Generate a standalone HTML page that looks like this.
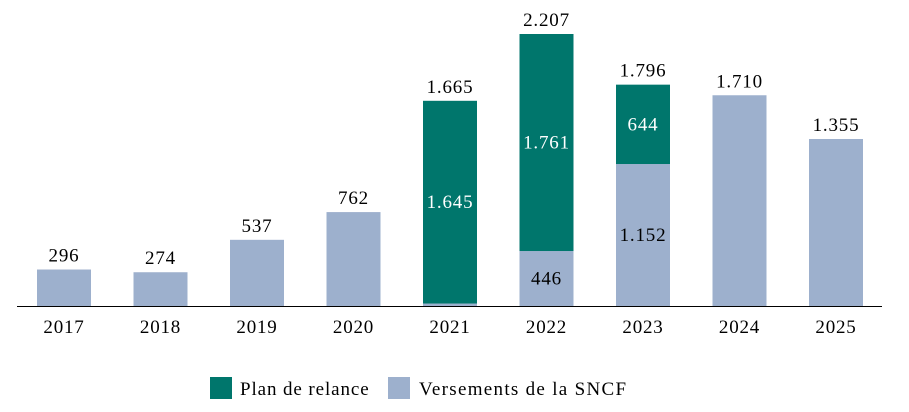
<!DOCTYPE html>
<html><head><meta charset="utf-8"><style>
body{margin:0;background:#fff;}
svg text{font-family:"Liberation Serif",serif;}
</style></head><body>
<svg id="chart" width="909" height="407" xmlns="http://www.w3.org/2000/svg">
<g id="bars"></g>
<line x1="17" y1="306.5" x2="882" y2="306.5" stroke="#000" stroke-width="1"/>
<g id="xlabels"></g>
<g>
<rect x="210" y="377" width="22" height="22" fill="#00766C"/>
<text x="240" y="395" font-size="19" letter-spacing="0.9">Plan de relance</text>
<rect x="388" y="377" width="22" height="22" fill="#9DB0CD"/>
<text x="419" y="395" font-size="19" letter-spacing="1.3">Versements de la SNCF</text>
</g>
</svg>
<script>
const categories=["2017","2018","2019","2020","2021","2022","2023","2024","2025"];
const sncf=[296,274,537,762,20,446,1152,1710,1355];
const plan=[0,0,0,0,1645,1761,644,0,0];
const totalLabels=["296","274","537","762","1.665","2.207","1.796","1.710","1.355"];
const sncfLabels=["","","","","","446","1.152","",""];
const planLabels=["","","","","1.645","1.761","644","",""];
const NS="http://www.w3.org/2000/svg";
const base=306, scale=272/2207, x0=64, step=96.5, bw=54;
const y=v=>base-v*scale, xc=i=>x0+i*step;
const g=document.getElementById('bars'), xl=document.getElementById('xlabels');
function mk(t,a,p){const e=document.createElementNS(NS,t);for(const k in a)e.setAttribute(k,a[k]);p.appendChild(e);return e;}
categories.forEach((c,i)=>{
  const r1=mk('rect',{x:xc(i)-bw/2,y:y(sncf[i]),width:bw,height:sncf[i]*scale,fill:'#9DB0CD'},g);
  
  
  if(plan[i]>0){
    const r2=mk('rect',{x:xc(i)-bw/2,y:y(sncf[i]+plan[i]),width:bw,height:plan[i]*scale,fill:'#00766C'},g);
    
    
  }
  const tot=sncf[i]+plan[i];
  const t=mk('text',{x:xc(i),y:y(tot)-8,'text-anchor':'middle','font-size':19,'letter-spacing':0.8},g);t.textContent=totalLabels[i];
  
  
  if(planLabels[i]){
    const p=mk('text',{x:xc(i),y:y(sncf[i]+plan[i]/2)+6,'text-anchor':'middle','font-size':19,'letter-spacing':0.8,fill:'#fff'},g);p.textContent=planLabels[i];
    
    
  }
  if(sncfLabels[i]){
    const s=mk('text',{x:xc(i),y:y(sncf[i]/2)+6,'text-anchor':'middle','font-size':19,'letter-spacing':0.8},g);s.textContent=sncfLabels[i];
    
    
  }
  const l=mk('text',{x:xc(i),y:333,'text-anchor':'middle','font-size':19,'letter-spacing':0.8},xl);l.textContent=c;
  
  
});
</script>
</body></html>
